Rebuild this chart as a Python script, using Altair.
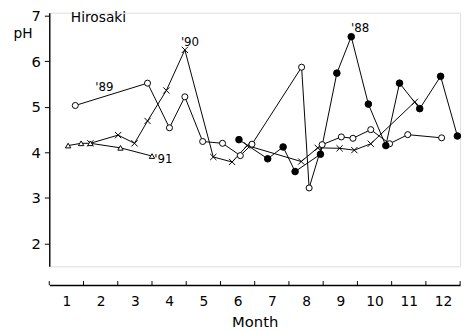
import altair as alt
import pandas as pd

# '88 (filled circles)
m88 = [6.04, 6.88, 7.33, 7.68, 8.42, 8.90, 9.32, 9.82, 10.33, 10.73, 11.32, 11.93, 12.42]
ph88 = [4.28, 3.86, 4.12, 3.58, 3.96, 5.74, 6.54, 5.06, 4.15, 5.52, 4.96, 5.67, 4.36]
# '89 (open circles)
m89 = [1.26, 3.37, 4.01, 4.46, 4.98, 5.56, 6.08, 6.42, 7.87, 8.09, 8.47, 9.03, 9.37, 9.89, 10.44, 10.97, 11.96]
ph89 = [5.03, 5.52, 4.54, 5.22, 4.24, 4.20, 3.93, 4.18, 5.87, 3.22, 4.17, 4.34, 4.31, 4.50, 4.19, 4.39, 4.32]
# '90 (crosses)
m90 = [1.70, 2.51, 2.99, 3.37, 3.92, 4.46, 5.29, 5.84, 6.28, 7.86, 8.34, 8.98, 9.41, 9.89, 11.18]
ph90 = [4.20, 4.38, 4.20, 4.69, 5.36, 6.25, 3.90, 3.79, 4.15, 3.80, 4.10, 4.09, 4.05, 4.19, 5.11]
# '91 (triangles)
m91 = [1.05, 1.43, 1.70, 2.58, 3.50]
ph91 = [4.15, 4.20, 4.20, 4.10, 3.92]

# annotations
ann_text = ["'88", "'89", "'90", "'91"]
ann_m = [9.58, 2.11, 4.61, 3.83]
ann_ph = [6.73, 5.43, 6.43, 3.86]
site_text = ["Hirosaki"]
site_m = [1.13]
site_ph = [6.95]

months = list(range(1, 13))
bounds = [m - 0.5 for m in months] + [12.5]
yticks = [2, 3, 4, 5, 6, 7]

W, H = 418, 258
FONT = "DejaVu Sans"

def frame(name, m, p):
    return pd.DataFrame({"series": name, "m": m, "ph": p, "idx": range(len(m))})

d88 = frame("88", m88, ph88)
d89 = frame("89", m89, ph89)
d90 = frame("90", m90, ph90)
d91 = frame("91", m91, ph91)
allser = pd.concat([d88, d89, d90, d91])

xs = alt.Scale(domain=[0.5, 12.5], nice=False, zero=False)
ys = alt.Scale(domain=[1.5, 7.065], nice=False, zero=False)

xaxis = alt.Axis(values=months, ticks=False, grid=False, offset=19,
                 domainColor="black", domainWidth=1.4,
                 labelFont=FONT, labelFontSize=14, labelColor="black", labelPadding=10,
                 title="Month", titleFont=FONT, titleFontSize=15, titleFontWeight="normal",
                 titleColor="black", titlePadding=6)
yaxis = alt.Axis(values=yticks, grid=False, tickSize=5, tickColor="black", tickWidth=1,
                 domainColor="black", domainWidth=1.4,
                 labelFont=FONT, labelFontSize=15, labelColor="black", labelPadding=4,
                 title="pH", titleFont=FONT, titleFontSize=14, titleFontWeight="normal",
                 titleColor="black", titleAngle=0, titleX=-37, titleY=21,
                 titleAlign="left", titleBaseline="middle")

X = alt.X("m:Q", scale=xs, axis=xaxis)
Y = alt.Y("ph:Q", scale=ys, axis=yaxis)

lines = alt.Chart(allser).mark_line(color="black", strokeWidth=1).encode(
    x=X, y=Y, detail="series:N", order="idx:Q")

p89 = alt.Chart(d89).mark_point(shape="circle", filled=True, fill="white", stroke="black",
                                strokeWidth=1, size=38, opacity=1).encode(x=X, y=Y)
p88 = alt.Chart(d88).mark_point(shape="circle", filled=True, fill="black", stroke="black",
                                strokeWidth=1, size=45, opacity=1).encode(x=X, y=Y)
p90 = alt.Chart(d90).mark_point(shape="M-1,-1L1,1M-1,1L1,-1", filled=False, stroke="black",
                                strokeWidth=1, size=40, opacity=1).encode(x=X, y=Y)
p91 = alt.Chart(d91).mark_point(shape="triangle-up", filled=True, fill="white", stroke="black",
                                strokeWidth=1, size=30, opacity=1).encode(x=X, y=Y)

ann = pd.DataFrame({"t": ann_text, "m": ann_m, "ph": ann_ph})
labels = alt.Chart(ann).mark_text(font=FONT, fontSize=12, color="black",
                                  align="center", baseline="middle").encode(
    x=X, y=Y, text="t:N")
site = pd.DataFrame({"t": site_text, "m": site_m, "ph": site_ph})
title_txt = alt.Chart(site).mark_text(font=FONT, fontSize=14, color="black",
                                      align="left", baseline="middle").encode(
    x=X, y=Y, text="t:N")

tickdf = pd.DataFrame({"m": bounds})
xticks = alt.Chart(tickdf).mark_rule(color="black", strokeWidth=1).encode(
    x=X, y=alt.value(H + 19), y2=alt.value(H + 15))

chart = alt.layer(lines, p90, p91, p89, p88, labels, title_txt, xticks).properties(
    width=W, height=H,
    autosize=alt.AutoSizeParams(type="none"),
    padding={"left": 42, "top": 2, "right": 7, "bottom": 65},
).configure_view(stroke=None).configure(background="white")

chart.save("out.html", embed_options={"renderer": "svg", "actions": False})
